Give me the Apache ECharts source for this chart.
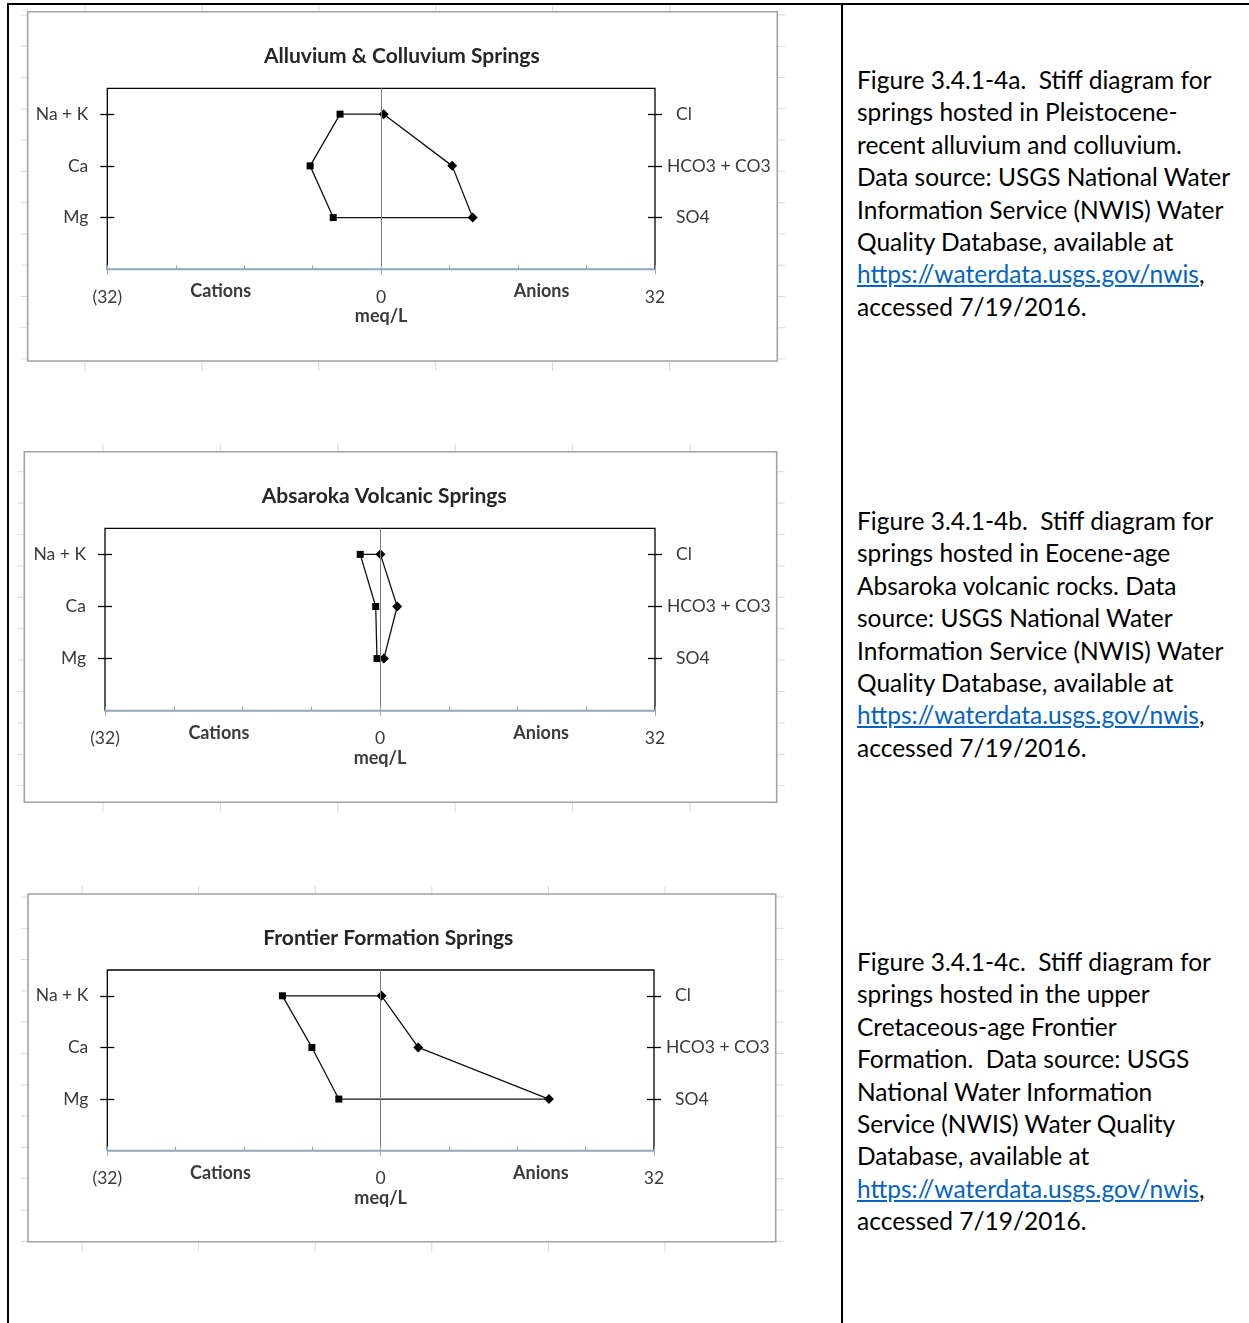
<!DOCTYPE html>
<html>
<head>
<meta charset="utf-8">
<script src="https://cdn.jsdelivr.net/npm/echarts@6/dist/echarts.min.js"></script>
<style>
  html, body { margin: 0; padding: 0; background: #fff; }
  body { width: 1249px; height: 1323px; position: relative; overflow: hidden; font-family: Lato, "Noto Sans", sans-serif; }
  #charts { position: absolute; left: 0; top: 0; width: 840px; height: 1323px; }
  .rule { position: absolute; background: #000; }
  .caption { position: absolute; left: 857px; font-size: 24.5px; line-height: 32.4px; color: #000; white-space: pre; }
  .caption a { color: #0563c1; text-decoration: underline; }
</style>
</head>
<body>
<div id="charts"></div>
<div class="rule" style="left:7px;top:3px;width:1242px;height:2px"></div>
<div class="rule" style="left:7px;top:3px;width:2px;height:1320px"></div>
<div class="rule" style="left:841px;top:3px;width:2px;height:1320px"></div>

<div class="caption" style="top:64px">Figure 3.4.1-4a.  Stiff diagram for
springs hosted in Pleistocene-
recent alluvium and colluvium.
Data source: USGS National Water
Information Service (NWIS) Water
Quality Database, available at
<a>https://waterdata.usgs.gov/nwis</a>,
accessed 7/19/2016.</div>

<div class="caption" style="top:505px">Figure 3.4.1-4b.  Stiff diagram for
springs hosted in Eocene-age
Absaroka volcanic rocks. Data
source: USGS National Water
Information Service (NWIS) Water
Quality Database, available at
<a>https://waterdata.usgs.gov/nwis</a>,
accessed 7/19/2016.</div>

<div class="caption" style="top:946px">Figure 3.4.1-4c.  Stiff diagram for
springs hosted in the upper
Cretaceous-age Frontier
Formation.  Data source: USGS
National Water Information
Service (NWIS) Water Quality
Database, available at
<a>https://waterdata.usgs.gov/nwis</a>,
accessed 7/19/2016.</div>

<script>
// Ion names, top row to bottom row
const cationNames = ['Na + K', 'Ca', 'Mg'];
const anionNames = ['Cl', 'HCO3 + CO3', 'SO4'];
const rowLevels = [3, 2, 1];

// Horizontal axis ticks (meq/L); cations plotted to the left of zero
const xTickValues = [-32, 0, 32];
const xTickLabels = ['(32)', '0', '32'];

const chartTitles = [
  'Alluvium & Colluvium Springs',
  'Absaroka Volcanic Springs',
  'Frontier Formation Springs'
];

// Concentrations in meq/L: cations [Na + K, Ca, Mg], anions [Cl, HCO3 + CO3, SO4]
const alluviumCations = [4.8, 8.3, 5.6];
const alluviumAnions = [0.3, 8.3, 10.7];
const absarokaCations = [2.3, 0.5, 0.35];
const absarokaAnions = [0.05, 2.0, 0.45];
const frontierCations = [11.5, 8.05, 4.9];
const frontierAnions = [0.1, 4.4, 19.7];

const FONT = 'Lato, "Noto Sans", sans-serif';
const LABEL_COLOR = '#3a3a3a';
const AXIS_BLUE = '#8ea8c6';
const LABEL_SIZE = 17.5;

// Layout of the three chart panels
const panels = [
  { title: chartTitles[0], cations: alluviumCations, anions: alluviumAnions,
    grid: { left: 107.3, top: 88.3, width: 547.7, height: 181 }, titleAt: [401.8, 56.7],
    frame: [27.7, 11.7, 749.6, 349.3], cols: [85, 116.9], rows: [15, 31.27, 12] },
  { title: chartTitles[1], cations: absarokaCations, anions: absarokaAnions,
    grid: { left: 105, top: 528.3, width: 550, height: 182.4 }, titleAt: [384.2, 496.7],
    frame: [24.3, 451.7, 752.4, 350.6], cols: [103, 117.4], rows: [471.7, 31.4, 11] },
  { title: chartTitles[2], cations: frontierCations, anions: frontierAnions,
    grid: { left: 107.3, top: 970, width: 546.7, height: 180.7 }, titleAt: [388.3, 938],
    frame: [28, 894, 747.7, 347.7], cols: [82, 116.6], rows: [897, 31.3, 12] }
];

function stiffOutline(cations, anions) {
  const pts = [];
  cations.forEach((v, i) => pts.push({ value: [-v, rowLevels[i]], symbol: 'rect', symbolSize: 7 }));
  for (let i = anions.length - 1; i >= 0; i--) {
    pts.push({ value: [anions[i], rowLevels[i]], symbol: 'diamond', symbolSize: 10 });
  }
  pts.push({ value: [-cations[0], rowLevels[0]], symbol: 'none' });
  return pts;
}

const grids = [], xAxes = [], yAxes = [], series = [], titles = [], graphics = [];

panels.forEach((p, k) => {
  grids.push(Object.assign({ show: true, borderColor: '#000', borderWidth: 1.3, backgroundColor: 'transparent' }, p.grid));

  titles.push({
    text: p.title, left: p.titleAt[0], top: p.titleAt[1], padding: 0,
    textAlign: 'center', textVerticalAlign: 'middle',
    textStyle: { fontFamily: FONT, fontSize: 21, fontWeight: 'bold', color: '#262626' }
  });

  // main meq/L axis
  xAxes.push({
    gridIndex: k, type: 'value', min: -32, max: 32, interval: 8, position: 'bottom', z: 5,
    axisLine: { onZero: false, lineStyle: { color: AXIS_BLUE, width: 1.3 } },
    axisTick: { inside: true, length: 4, lineStyle: { color: AXIS_BLUE, width: 1 } },
    axisLabel: {
      customValues: xTickValues, margin: 19, fontFamily: FONT, fontSize: LABEL_SIZE, color: LABEL_COLOR,
      formatter: v => xTickLabels[xTickValues.indexOf(v)]
    },
    splitLine: { show: false },
    name: 'meq/L', nameLocation: 'middle', nameGap: 38,
    nameTextStyle: { fontFamily: FONT, fontSize: 18, fontWeight: 'bold', color: LABEL_COLOR }
  });
  // side captions and outer ticks
  xAxes.push({
    gridIndex: k, type: 'value', min: -32, max: 32, position: 'bottom',
    axisLine: { show: false, onZero: false },
    axisTick: { show: true, customValues: xTickValues, length: 5, lineStyle: { color: AXIS_BLUE, width: 1 } },
    axisLabel: {
      customValues: [-18.75, 18.75], margin: 13, fontFamily: FONT, fontSize: 18, fontWeight: 'bold', color: LABEL_COLOR,
      formatter: v => (v < 0 ? 'Cations' : 'Anions')
    },
    splitLine: { show: false }
  });

  const yBase = {
    gridIndex: k, type: 'value', min: 0, max: 3.5, offset: -7,
    axisLine: { show: false, onZero: false }, splitLine: { show: false },
    axisTick: { show: true, length: 14, customValues: rowLevels, lineStyle: { color: '#000', width: 1.3 } }
  };
  yAxes.push(Object.assign({}, yBase, {
    position: 'left',
    axisLabel: {
      customValues: rowLevels, margin: 26, fontFamily: FONT, fontSize: LABEL_SIZE, color: LABEL_COLOR,
      formatter: v => cationNames[rowLevels.indexOf(v)]
    }
  }));
  yAxes.push(Object.assign({}, yBase, {
    position: 'right',
    axisLabel: {
      customValues: rowLevels, margin: 19, fontFamily: FONT, fontSize: LABEL_SIZE, color: LABEL_COLOR,
      formatter: v => {
        const name = anionNames[rowLevels.indexOf(v)];
        return v === 2 ? name : '{ind|' + name + '}';
      },
      rich: { ind: { padding: [0, 0, 0, 9], fontFamily: FONT, fontSize: LABEL_SIZE, color: LABEL_COLOR } }
    }
  }));

  series.push({
    type: 'line', xAxisIndex: 2 * k, yAxisIndex: 2 * k,
    data: stiffOutline(p.cations, p.anions),
    lineStyle: { color: '#111', width: 1.3 },
    itemStyle: { color: '#000' },
    clip: false, animation: false, z: 4,
    markLine: {
      silent: true, symbol: 'none', label: { show: false }, animation: false,
      lineStyle: { color: '#7f7f7f', width: 1, type: 'solid' },
      data: [{ xAxis: 0 }]
    }
  });

  // chart frame
  const [fx, fy, fw, fh] = p.frame;
  graphics.push({ type: 'rect', silent: true, z: 1,
    shape: { x: fx, y: fy, width: fw, height: fh },
    style: { fill: null, stroke: '#a3a3a3', lineWidth: 1.6 } });

  // faint worksheet cell lines around the frame
  const faint = { stroke: '#dadada', lineWidth: 1 };
  for (let c = 0; c < 6; c++) {
    const x = p.cols[0] + c * p.cols[1];
    graphics.push({ type: 'line', silent: true, shape: { x1: x, y1: fy - 8, x2: x, y2: fy }, style: faint });
    graphics.push({ type: 'line', silent: true, shape: { x1: x, y1: fy + fh, x2: x, y2: fy + fh + 10 }, style: faint });
  }
  for (let r = 0; r < p.rows[2]; r++) {
    const y = p.rows[0] + r * p.rows[1];
    graphics.push({ type: 'line', silent: true, shape: { x1: fx - 7, y1: y, x2: fx, y2: y }, style: faint });
    graphics.push({ type: 'line', silent: true, shape: { x1: fx + fw, y1: y, x2: fx + fw + 8, y2: y }, style: faint });
  }
});

const chart = echarts.init(document.getElementById('charts'), null, { renderer: 'canvas' });
chart.setOption({
  animation: false,
  backgroundColor: 'transparent',
  title: titles,
  grid: grids,
  xAxis: xAxes,
  yAxis: yAxes,
  series: series,
  graphic: { elements: graphics }
});
</script>
</body>
</html>
